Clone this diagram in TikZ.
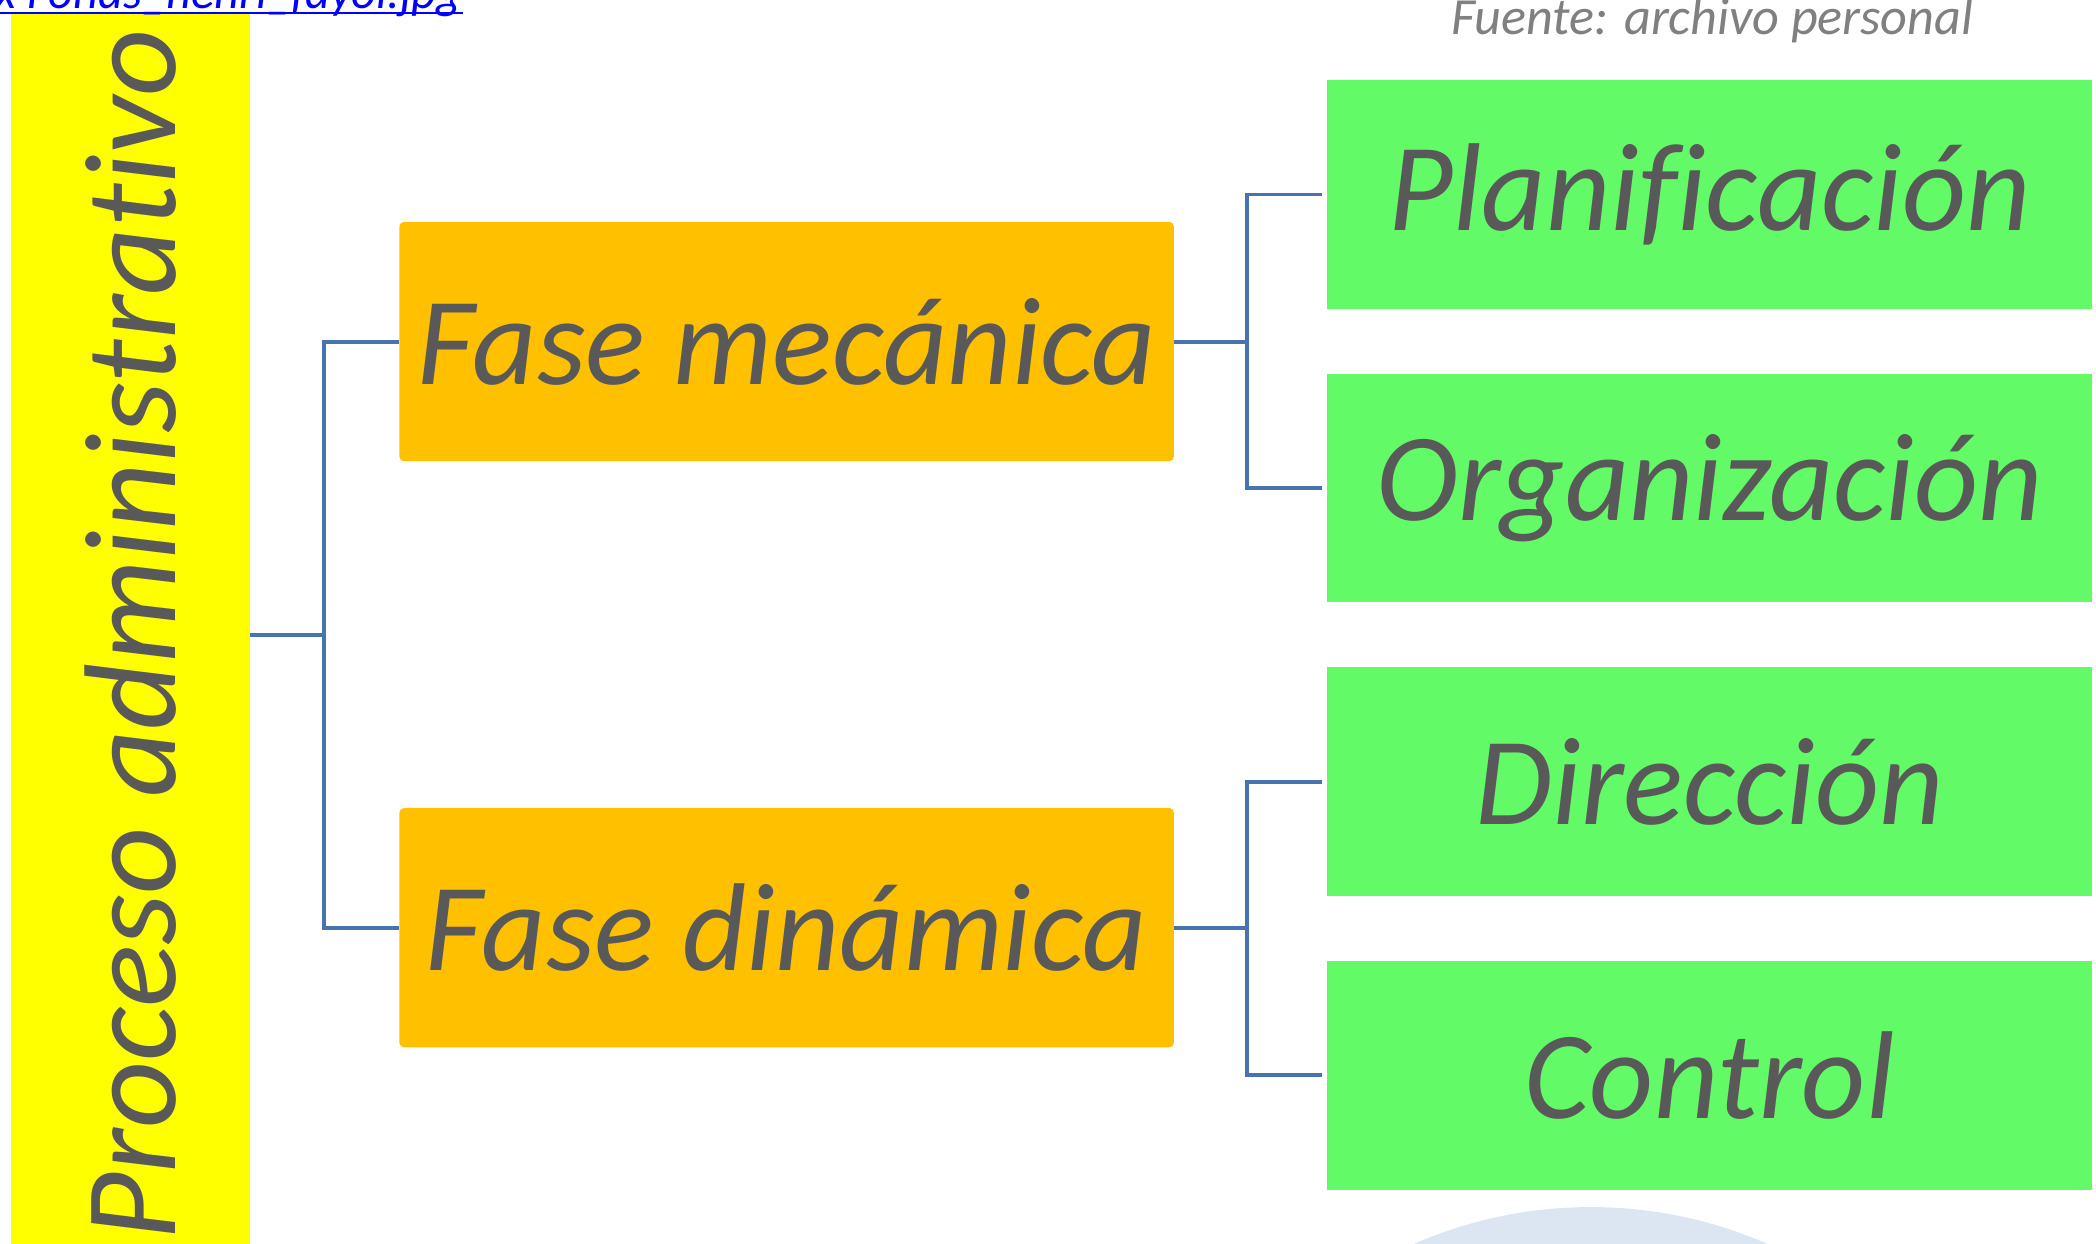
\documentclass[tikz,border=0pt]{standalone}
\usepackage{fontspec}
\setmainfont{Carlito}[Ligatures=NoCommon]
\usetikzlibrary{positioning, calc}

\definecolor{boxtext}{HTML}{595959}
\definecolor{procfill}{HTML}{FFFF00}
\definecolor{fasefill}{HTML}{FFC000}
\definecolor{etapafill}{HTML}{63FA67}
\definecolor{connline}{HTML}{4773AE}
\definecolor{fuentegray}{HTML}{808080}
\definecolor{linkblue}{HTML}{0000FF}
\definecolor{markfill}{HTML}{DCE6F2}

\begin{document}
\begin{tikzpicture}[x=0.01cm, y=-0.01cm,
		proceso/.style={rectangle, fill=procfill, minimum width=1.79cm, minimum height=9.3cm, inner sep=0pt, outer sep=0pt, text=boxtext, font=\itshape\fontsize{27.8}{32}\selectfont},
		fase/.style={rectangle, fill=fasefill, rounded corners=1pt, minimum width=5.79cm, minimum height=1.79cm, inner sep=0pt, outer sep=0pt, text=boxtext, font=\itshape\fontsize{26.6}{31}\selectfont},
		etapa/.style={rectangle, fill=etapafill, minimum width=5.72cm, minimum height=1.71cm, inner sep=0pt, outer sep=0pt, text=boxtext, font=\itshape\fontsize{26.6}{31}\selectfont},
		conn/.style={draw=connline, line width=0.85pt}]
			\useasboundingbox (0,0) rectangle (1568,930.6);
			\clip (0,0) rectangle (1568,930.6);
			\fill [markfill] (1190,1233) circle (330);
			% left column
			\node (proc) [proceso] at (97.5,475) {\rotatebox{90}{Proceso administrativo}};
			% phases
			\node (mec) [fase] at (588.5,255.5) {Fase mecánica};
			\node (din) [fase] at (588.5,694) {Fase dinámica};
			% stages
			\node (plan) [etapa] at (1279,145.5) {Planificación};
			\node (org) [etapa, below=0.485cm of plan] {Organización};
			\node (dir) [etapa, below=0.485cm of org] {Dirección};
			\node (ctrl) [etapa, below=0.485cm of dir] {Control};
			% connectors
			\draw [conn] (proc.east) -- ++(55,0) |- (mec.west);
			\draw [conn] (proc.east) -- ++(55,0) |- (din.west);
			\draw [conn, shorten >=0.04cm] (mec.east) -- ++(55,0) |- (plan.west);
			\draw [conn, shorten >=0.04cm] (mec.east) -- ++(55,0) |- (org.west);
			\draw [conn, shorten >=0.04cm] (din.east) -- ++(55,0) |- (dir.west);
			\draw [conn, shorten >=0.04cm] (din.east) -- ++(55,0) |- (ctrl.west);
			% source texts
			\node (fuente) [anchor=base, text=fuentegray, font=\itshape\fontsize{11.1}{13}\selectfont] at (1281,26) {Fuente: archivo personal};
			\node (link) [anchor=base east, inner sep=0pt, text=linkblue, font=\itshape\fontsize{10.3}{12}\selectfont] at (346,6) {x Fonds\_henri\_fayol.jpg};
			\draw [linkblue, line width=0.45pt] ([yshift=-0.04cm]link.base west) -- ([yshift=-0.04cm]link.base east);
		\end{tikzpicture}
\end{document}
